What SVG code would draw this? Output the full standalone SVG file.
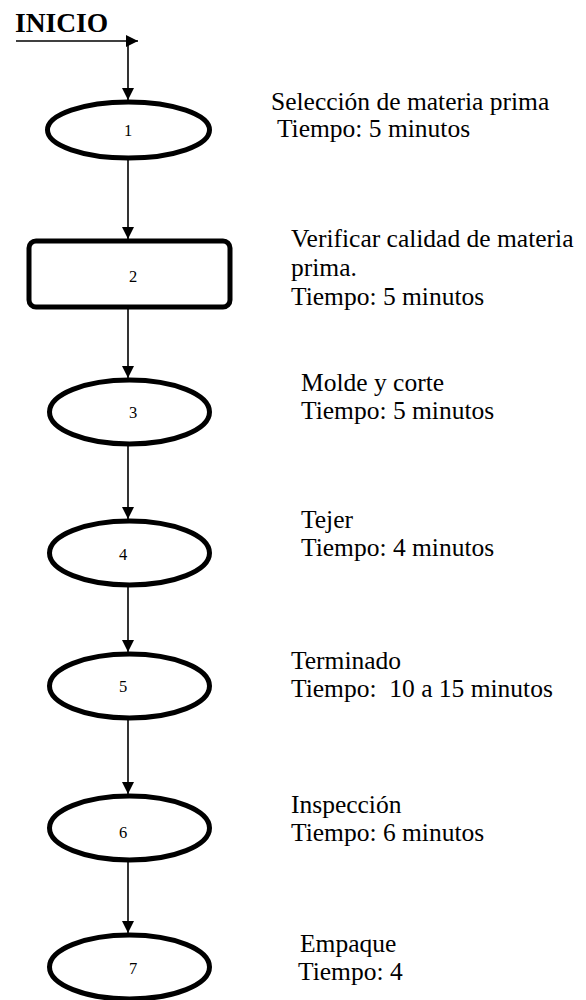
<svg xmlns="http://www.w3.org/2000/svg" width="586" height="1000" viewBox="0 0 586 1000">
  <style>
    .shape { fill: #ffffff; stroke: #000000; stroke-width: 5; }
    .num { font-size: 16.5px; fill: #000; text-anchor: middle; }
    .desc { font-size: 25.5px; fill: #000; white-space: pre; }
    .title { font-size: 27.5px; font-weight: bold; fill: #000; }
    .link { stroke: #000; stroke-width: 1.6; fill: none; marker-end: url(#arrow); }
  </style>
  <defs>
    <marker id="arrow" viewBox="0 0 12 12" refX="12" refY="6" markerWidth="12" markerHeight="12" markerUnits="userSpaceOnUse" orient="auto">
      <path d="M0,0 L12,6 L0,12 Z" fill="#000"/>
    </marker>
  </defs>

  <rect width="586" height="1000" fill="#ffffff"/>

  <g font-family="'Liberation Serif', 'Times New Roman', serif">
    <g id="inicio">
      <text class="title" x="15" y="32">INICIO</text>
    </g>

    <g id="connectors">
      <line class="link" x1="16" y1="41" x2="138" y2="41"/>
      <line class="link" x1="128" y1="41" x2="128" y2="100"/>
      <line class="link" x1="128" y1="160" x2="128" y2="239"/>
      <line class="link" x1="128" y1="309" x2="128" y2="378"/>
      <line class="link" x1="128" y1="446" x2="128" y2="519"/>
      <line class="link" x1="128" y1="587" x2="128" y2="652"/>
      <line class="link" x1="128" y1="720" x2="128" y2="794"/>
      <line class="link" x1="128" y1="862" x2="128" y2="933"/>
    </g>

    <g id="node1">
      <ellipse class="shape" cx="128.5" cy="130" rx="81" ry="28"/>
      <text class="num" x="128" y="136">1</text>
      <text class="desc" x="271" y="110">Selección de materia prima</text>
      <text class="desc" x="271" y="137"> Tiempo: 5 minutos</text>
    </g>

    <g id="node2">
      <rect class="shape" x="29" y="241" width="201" height="66" rx="7"/>
      <text class="num" x="133" y="282">2</text>
      <text class="desc" x="291" y="247">Verificar calidad de materia</text>
      <text class="desc" x="291" y="276">prima.</text>
      <text class="desc" x="291" y="305">Tiempo: 5 minutos</text>
    </g>

    <g id="node3">
      <ellipse class="shape" cx="129.5" cy="412" rx="80" ry="32"/>
      <text class="num" x="133" y="418">3</text>
      <text class="desc" x="301" y="391">Molde y corte</text>
      <text class="desc" x="301" y="419">Tiempo: 5 minutos</text>
    </g>

    <g id="node4">
      <ellipse class="shape" cx="129.5" cy="553" rx="80" ry="32"/>
      <text class="num" x="123" y="560">4</text>
      <text class="desc" x="301" y="528">Tejer</text>
      <text class="desc" x="301" y="556">Tiempo: 4 minutos</text>
    </g>

    <g id="node5">
      <ellipse class="shape" cx="129.5" cy="686" rx="80" ry="32"/>
      <text class="num" x="123" y="692">5</text>
      <text class="desc" x="291" y="669">Terminado</text>
      <text class="desc" x="291" y="697">Tiempo:  10 a 15 minutos</text>
    </g>

    <g id="node6">
      <ellipse class="shape" cx="129.5" cy="828" rx="80" ry="32"/>
      <text class="num" x="123" y="838">6</text>
      <text class="desc" x="291" y="813">Inspección</text>
      <text class="desc" x="291" y="841">Tiempo: 6 minutos</text>
    </g>

    <g id="node7">
      <ellipse class="shape" cx="129.5" cy="967" rx="80" ry="32"/>
      <text class="num" x="133" y="974">7</text>
      <text class="desc" x="300" y="952">Empaque</text>
      <text class="desc" x="298" y="980">Tiempo: 4</text>
    </g>
  </g>
</svg>
